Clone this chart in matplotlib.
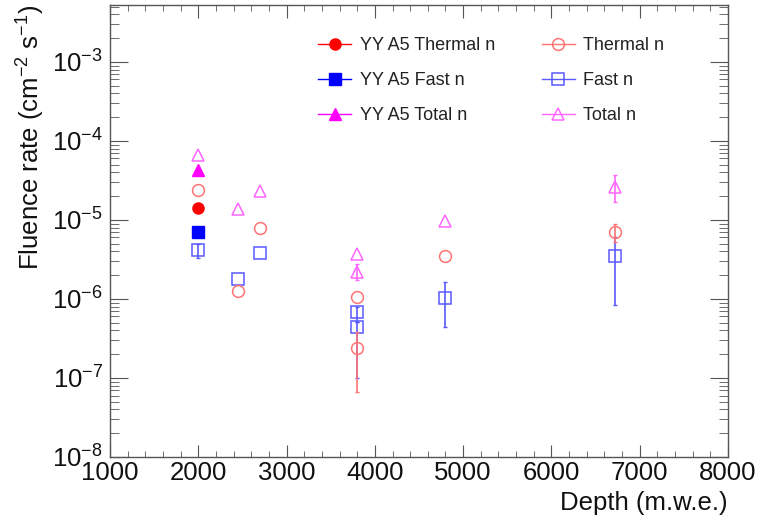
import matplotlib
matplotlib.use("Agg")
import matplotlib.pyplot as plt
import numpy as np
from matplotlib.ticker import MultipleLocator, LogLocator, NullFormatter
from matplotlib.lines import Line2D

plt.rcParams['font.family'] = ['Liberation Sans', 'DejaVu Sans']
plt.rcParams['mathtext.fontset'] = 'custom'
plt.rcParams['mathtext.rm'] = 'Liberation Sans'
plt.rcParams['mathtext.it'] = 'Liberation Sans:italic'
plt.rcParams['mathtext.default'] = 'regular'

# ---- data ----
depth = [2000, 2450, 2700, 3800, 3800, 4800, 6720]

thermal = [2.4e-5, 1.26e-6, 7.9e-6, 1.06e-6, 2.4e-7, 3.5e-6, 7.1e-6]
thermal_lo = [2.4e-5, 1.26e-6, 7.9e-6, 1.06e-6, 6.6e-8, 3.5e-6, 5.2e-6]
thermal_hi = [2.4e-5, 1.26e-6, 7.9e-6, 1.06e-6, 3.8e-7, 3.5e-6, 8.9e-6]

fast = [4.2e-6, 1.79e-6, 3.82e-6, 6.8e-7, 4.4e-7, 1.03e-6, 3.5e-6]
fast_lo = [3.3e-6, 1.79e-6, 3.82e-6, 5.1e-7, 1.0e-7, 4.4e-7, 8.4e-7]
fast_hi = [5.0e-6, 1.79e-6, 3.82e-6, 7.9e-7, 5.1e-7, 1.64e-6, 6.1e-6]

total = [6.6e-5, 1.38e-5, 2.33e-5, 3.7e-6, 2.2e-6, 9.8e-6, 2.6e-5]
total_lo = [6.6e-5, 1.38e-5, 2.33e-5, 3.7e-6, 1.74e-6, 9.8e-6, 1.7e-5]
total_hi = [6.6e-5, 1.38e-5, 2.33e-5, 3.7e-6, 2.77e-6, 9.8e-6, 3.7e-5]

yy_depth = [2000]
yy_thermal = [1.42e-5]
yy_fast = [7.05e-6]
yy_total = [4.3e-5]

fig = plt.figure(figsize=(7.6, 5.31), dpi=100)
ax = fig.add_axes([110/760, 1-457/531, 618/760, 452/531])

red_l = (1.0, 0.45, 0.45)
blue_l = (0.35, 0.35, 1.0)
mag_l = (1.0, 0.4, 1.0)

def draw_series(x, v, lo, hi, marker, color, z):
    x = np.array(x, float); v = np.array(v); lo = np.array(lo); hi = np.array(hi)
    m = (hi > v) | (lo < v)
    ax.errorbar(x[m], v[m], yerr=np.vstack([v[m] - lo[m], hi[m] - v[m]]), fmt='none',
                ecolor=color, elinewidth=1.2, capsize=1.5, capthick=1.0, zorder=z)
    ax.plot(x, v, linestyle='none', marker=marker, mfc='none', mec=color, ms=8.5, mew=1.1,
            zorder=z + 0.5)

ax.plot(yy_depth, yy_thermal, 'o', color='red', ms=8, zorder=5)
ax.plot(yy_depth, yy_fast, 's', color='blue', ms=8, zorder=5)
ax.plot(yy_depth, yy_total, '^', color='magenta', ms=8, zorder=5)

draw_series(depth, fast, fast_lo, fast_hi, 's', blue_l, 2)
draw_series(depth, thermal, thermal_lo, thermal_hi, 'o', red_l, 3)
draw_series(depth, total, total_lo, total_hi, '^', mag_l, 4)

ax.set_xlim(1000, 8000)
ax.set_yscale('log')
ax.set_ylim(1e-8, 10**-2.28)

ax.xaxis.set_major_locator(MultipleLocator(1000))
ax.xaxis.set_minor_locator(MultipleLocator(200))
ax.yaxis.set_major_locator(LogLocator(base=10, numticks=20))
ax.yaxis.set_minor_locator(LogLocator(base=10, subs=np.arange(2, 10), numticks=20))
ax.yaxis.set_minor_formatter(NullFormatter())

ax.tick_params(which='both', direction='in', top=True, right=True, labelsize=18.5,
               color='#555555', labelcolor='#111111')
ax.tick_params(axis='x', which='major', length=9, pad=3)
ax.tick_params(axis='x', which='minor', length=4.5)
ax.tick_params(axis='y', which='major', length=13, pad=5)
ax.tick_params(axis='y', which='minor', length=6.5)
for s in ax.spines.values():
    s.set_color('#555555')
    s.set_linewidth(1.0)

ax.set_xlabel('Depth (m.w.e.)', fontsize=18.5, loc='right', labelpad=4, color='#111111')
ax.set_ylabel('Fluence rate (cm$^{-2}$ s$^{-1}$)', fontsize=18.5, loc='top', labelpad=4,
              color='#111111')

handles = [
    Line2D([], [], color='red', marker='o', ms=8, lw=1),
    Line2D([], [], color='blue', marker='s', ms=8, lw=1),
    Line2D([], [], color='magenta', marker='^', ms=8, lw=1),
    Line2D([], [], color=red_l, marker='o', mfc='none', ms=8.5, mew=1.1, lw=1),
    Line2D([], [], color=blue_l, marker='s', mfc='none', ms=8.5, mew=1.1, lw=1),
    Line2D([], [], color=mag_l, marker='^', mfc='none', ms=8.5, mew=1.1, lw=1),
]
labels = ['YY A5 Thermal n', 'YY A5 Fast n', 'YY A5 Total n', 'Thermal n', 'Fast n', 'Total n']
leg = ax.legend(handles, labels, ncol=2, frameon=False, fontsize=13, loc='upper left',
                bbox_to_anchor=(0.325, 0.945), handlelength=1.85, handletextpad=0.45,
                columnspacing=2.6, labelspacing=1.0, borderaxespad=0)
for t in leg.get_texts():
    t.set_color('#222222')

fig.savefig('out.png', dpi=100)
